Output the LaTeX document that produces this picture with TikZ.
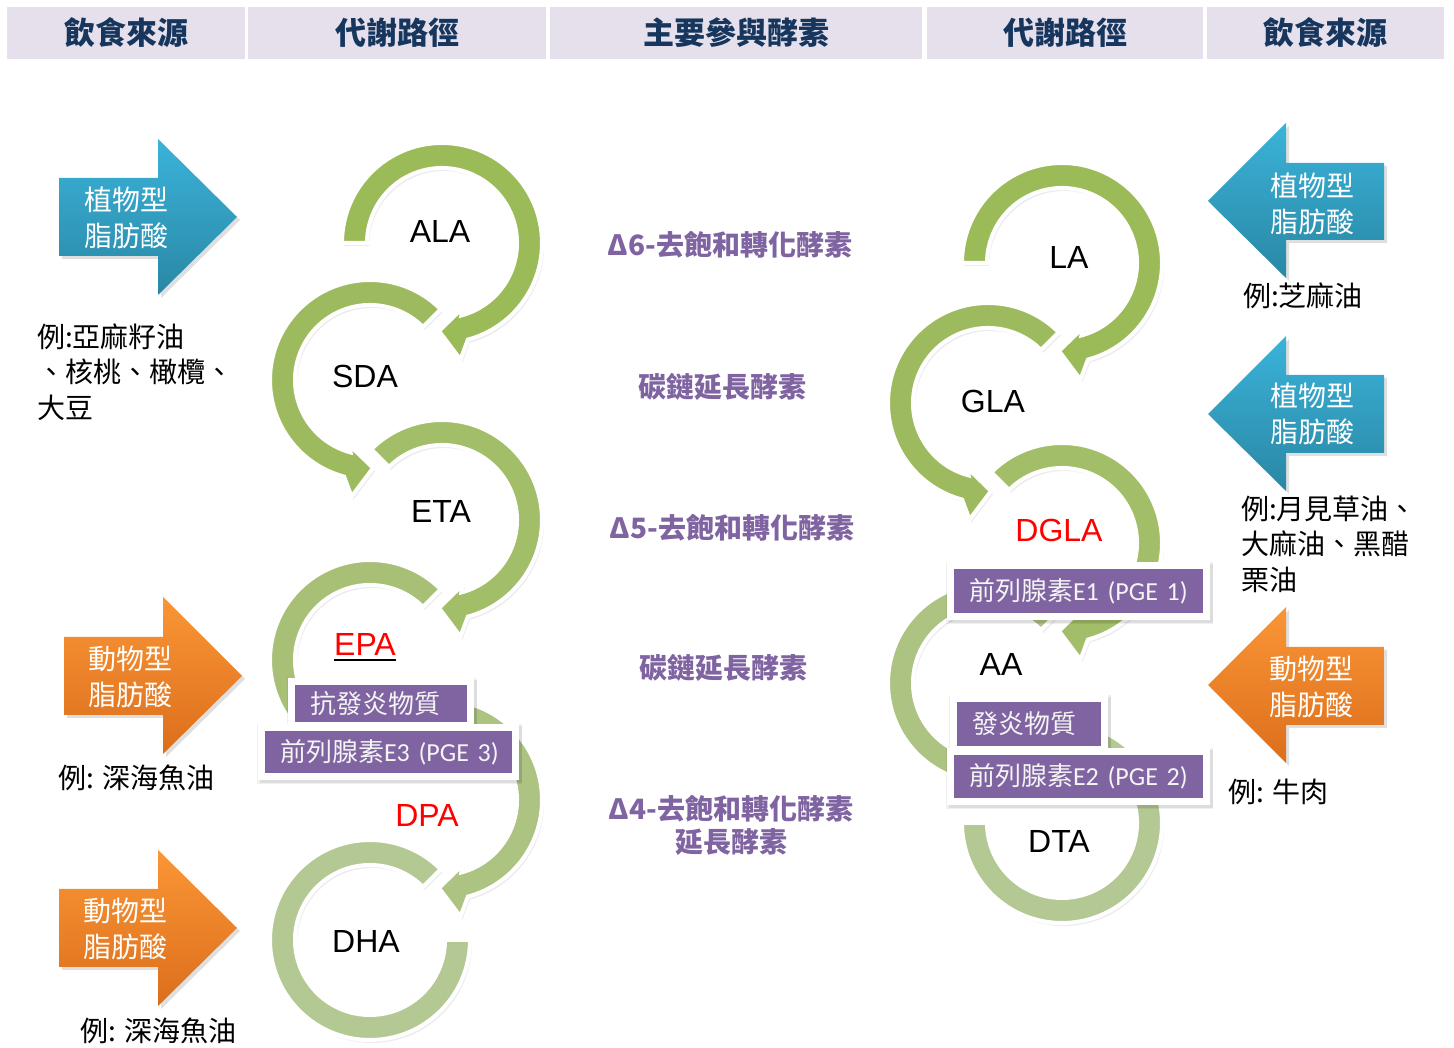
\documentclass[tikz,border=0pt]{standalone}
\usepackage{fontspec}
\setmainfont{Liberation Sans}
\newfontfamily\cjk{Noto Sans CJK TC}
\newfontfamily\carl{Carlito}
\usetikzlibrary{shadows,calc}
\definecolor{hdrbg}{HTML}{E6E0EC}
\definecolor{hdrtxt}{HTML}{17365D}
\definecolor{enz}{HTML}{8064A2}
\definecolor{pbc}{HTML}{8064A2}
\definecolor{boxtxt}{HTML}{F4F4F4}
\definecolor{blueT}{HTML}{3AB3D9}
\definecolor{blueB}{HTML}{2A87A5}
\definecolor{oranT}{HTML}{FA9636}
\definecolor{oranB}{HTML}{DC6E1C}
\definecolor{gA}{HTML}{9BBB59}
\definecolor{gB}{HTML}{9DBB5E}
\definecolor{gC}{HTML}{A2BE69}
\definecolor{gD}{HTML}{A8C076}
\definecolor{gE}{HTML}{ADC381}
\definecolor{gF}{HTML}{B4C893}
\newcommand{\fsz}[2]{\fontsize{#1}{#2}\selectfont}
\newcommand{\ringarrow}[6]{%
 \begin{scope}[shift={(#1,#2)}]
  \pgfmathsetmacro{\rtip}{#4+(#5)*17}%
  \pgfmathsetmacro{\rob}{#4+(#5)*6}%
  \pgfmathsetmacro{\rib}{#4-(#5)*3}%
  \path[ring, fill=#6] (#3:100pt) arc[start angle=#3, end angle=#4, radius=100pt] -- (\rob:118pt) -- (\rtip:88pt) -- (\rib:68pt) -- (#4:75pt) arc[start angle=#4, end angle=#3, radius=75pt] -- cycle;
 \end{scope}}
\newcommand{\ringplain}[5]{%
 \begin{scope}[shift={(#1,#2)}]
  \path[ring, fill=#5] (#3:100pt) arc[start angle=#3, end angle=#4, radius=100pt] -- (#4:75pt) arc[start angle=#4, end angle=#3, radius=75pt] -- cycle;
 \end{scope}}
\tikzset{
 hdr/.style={fill=hdrbg, minimum height=52pt, inner sep=0pt, font=\cjk\bfseries\fsz{31}{36}, text=hdrtxt},
 lbl/.style={inner sep=0pt, font=\fsz{32}{38}},
 midtxt/.style={inner sep=0pt, font=\cjk\bfseries\fsz{28}{33}, text=enz, align=center},
 extxt/.style={inner sep=0pt, font=\cjk\fsz{28}{35.5}, align=left, anchor=west},
 arrtxt/.style={inner sep=0pt, font=\cjk\fsz{28}{36}, text=white, align=center},
 pbox/.style={fill=pbc, draw=white, line width=7pt, outer sep=0pt, inner ysep=0pt, inner xsep=18.5pt, anchor=west, align=left, font=\cjk\fsz{26}{30}, text=boxtxt,
   preaction={draw=black, draw opacity=0.06, line width=11pt, transform canvas={shift={(1pt,-2pt)}}},
   preaction={draw=black, draw opacity=0.08, line width=8pt, transform canvas={shift={(2pt,-3pt)}}}},
 ring/.style={draw=white, line width=4pt, drop shadow={opacity=0.15, shadow xshift=2pt, shadow yshift=-3pt}},
 bluearr/.style={top color=blueT, bottom color=blueB, drop shadow={opacity=0.25, shadow xshift=3pt, shadow yshift=-3pt}},
 oranarr/.style={top color=oranT, bottom color=oranB, drop shadow={opacity=0.25, shadow xshift=3pt, shadow yshift=-3pt}}
}
\begin{document}
\begin{tikzpicture}[x=1pt, y=1pt]
\useasboundingbox (0,0) rectangle (1454,1048);
\fill[white] (0,0) rectangle (1454,1048);
% header
\node[hdr, minimum width=238pt] (h1) at (126,1015) {飲食來源};
\node[hdr, minimum width=298pt] (h2) at (397,1015) {代謝路徑};
\node[hdr, minimum width=372pt] (h3) at (736,1015) {主要參與酵素};
\node[hdr, minimum width=276pt] (h4) at (1065,1015) {代謝路徑};
\node[hdr, minimum width=237pt] (h5) at (1325.5,1015) {飲食來源};
% left rings (bottom to top)
\ringplain{370}{108}{45}{360}{gF}
\ringarrow{442}{248}{135}{-75}{-1}{gE}
\ringarrow{370}{388}{45}{255}{1}{gD}
\ringarrow{442}{528}{135}{-75}{-1}{gC}
\ringarrow{370}{668}{45}{255}{1}{gB}
\ringarrow{442}{805}{180}{-75}{-1}{gA}
% right rings
\ringplain{1062}{225}{135}{-180}{gF}
\ringarrow{988}{365}{45}{255}{1}{gE}
\ringarrow{1062}{505}{135}{-75}{-1}{gC}
\ringarrow{988}{645}{45}{255}{1}{gB}
\ringarrow{1062}{785}{180}{-75}{-1}{gA}
% labels
\node[lbl] (ALA) at (440,816) {ALA};
\node[lbl] (SDA) at (365,672) {SDA};
\node[lbl] (ETA) at (441,536) {ETA};
\node[lbl, text=red] (EPA) at (365,403) {EPA};
\draw[line width=2pt] ($(EPA.base west)+(0,-4)$) -- ($(EPA.base east)+(0,-4)$);
\node[lbl, text=red] (DPA) at (427,232) {DPA};
\node[lbl] (DHA) at (366,107) {DHA};
\node[lbl] (LA) at (1069,790) {LA};
\node[lbl] (GLA) at (993,647) {GLA};
\node[lbl, text=red] (DGLA) at (1059,518) {DGLA};
\node[lbl] (AA) at (1001,383) {AA};
\node[lbl] (DTA) at (1059,206) {DTA};
% purple boxes
\node[pbox, text width=142pt, minimum height=44pt] (anti) at (291.5,344.5) {\mbox{抗發炎物質}};
\node[pbox, text width=217pt, minimum height=49pt] (pge3) at (261.5,296) {\mbox{前列腺素{\carl E3 (PGE 3)}}};
\node[pbox, text width=219pt, minimum height=51pt] (pge1) at (950.5,457) {\mbox{前列腺素{\carl E1 (PGE 1)}}};
\node[pbox, text width=114pt, minimum height=51pt] (infl) at (953.5,324) {\mbox{發炎物質}};
\node[pbox, text width=219pt, minimum height=50pt] (pge2) at (950.5,271.5) {\mbox{前列腺素{\carl E2 (PGE 2)}}};
% enzymes
\node[midtxt] (e1) at (730,803) {Δ6-去飽和轉化酵素};
\node[midtxt] (e2) at (722,661) {碳鏈延長酵素};
\node[midtxt] (e3) at (732,520) {Δ5-去飽和轉化酵素};
\node[midtxt] (e4) at (723,380) {碳鏈延長酵素};
\node[midtxt] (e5) at (731,222.5) {Δ4-去飽和轉化酵素\\延長酵素};
% block arrows left
\path[bluearr] (59,870) -- (158,870) -- (158,909) -- (237,831) -- (158,753) -- (158,792) -- (59,792) -- cycle;
\path[oranarr] (64,411) -- (163,411) -- (163,451) -- (242,372) -- (163,294) -- (163,333) -- (64,333) -- cycle;
\path[oranarr] (59,159) -- (158,159) -- (158,198) -- (237,120) -- (158,42) -- (158,81) -- (59,81) -- cycle;
% block arrows right
\path[bluearr] (1384,885) -- (1286,885) -- (1286,925) -- (1208,847) -- (1286,770) -- (1286,808) -- (1384,808) -- cycle;
\path[bluearr] (1384,673) -- (1286,673) -- (1286,712) -- (1208,634) -- (1286,557) -- (1286,595) -- (1384,595) -- cycle;
\path[oranarr] (1384,401) -- (1286,401) -- (1286,441) -- (1208,363) -- (1286,285) -- (1286,323) -- (1384,323) -- cycle;
% arrow texts
\node[arrtxt] (a1) at (126,830) {植物型\\脂肪酸};
\node[arrtxt] (a2) at (130,371) {動物型\\脂肪酸};
\node[arrtxt] (a3) at (125,119) {動物型\\脂肪酸};
\node[arrtxt] (a4) at (1312,844) {植物型\\脂肪酸};
\node[arrtxt] (a5) at (1312,634) {植物型\\脂肪酸};
\node[arrtxt] (a6) at (1311,361) {動物型\\脂肪酸};
% examples
\node[extxt] (x1) at (37,676) {例:亞麻籽油\\、核桃、橄欖、\\大豆};
\node[extxt] (x2) at (58,270) {例: 深海魚油};
\node[extxt] (x3) at (80,17) {例: 深海魚油};
\node[extxt] (x4) at (1243,752) {例:芝麻油};
\node[extxt] (x5) at (1241,504) {例:月見草油、\\大麻油、黑醋\\栗油};
\node[extxt] (x6) at (1228,256) {例: 牛肉};
\end{tikzpicture}
\end{document}
